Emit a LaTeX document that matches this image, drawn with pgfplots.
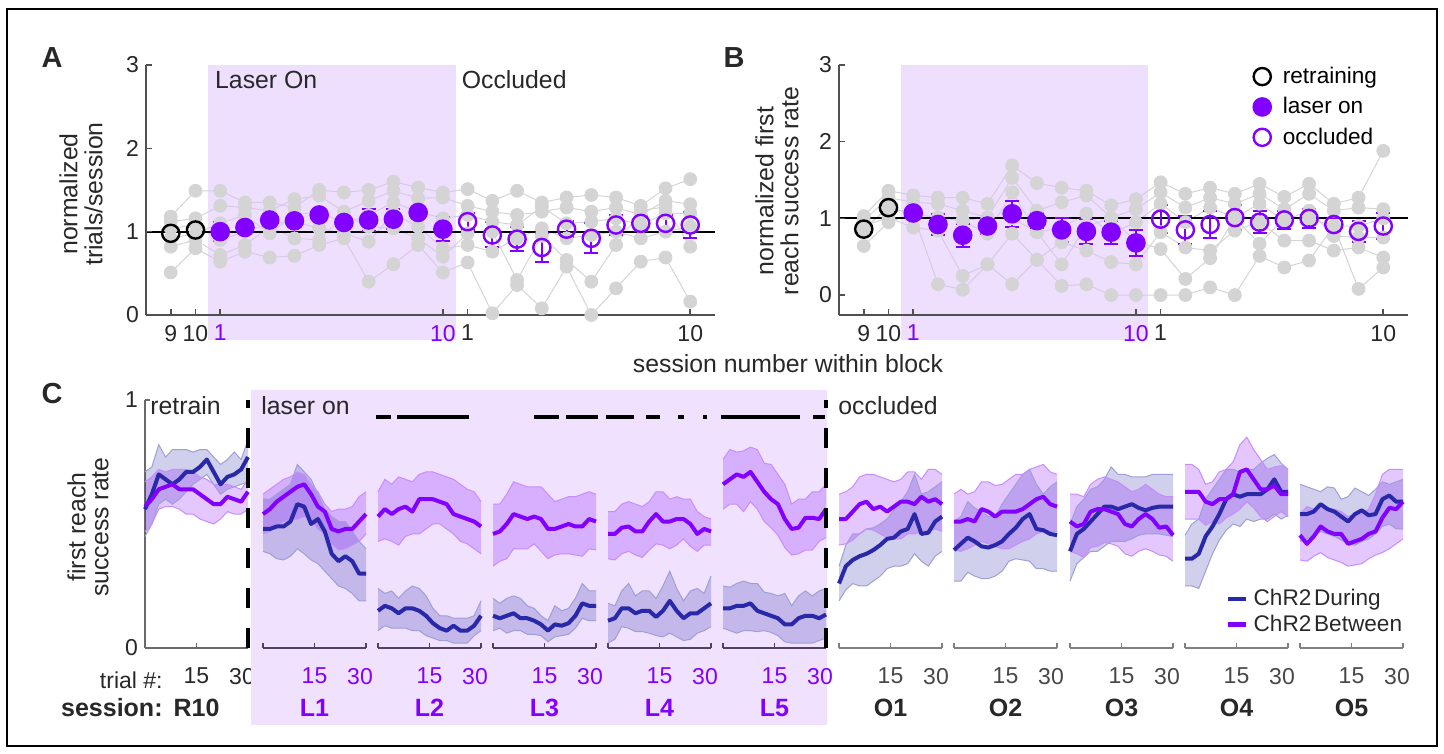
\documentclass[border=0pt]{standalone}
\usepackage{fontspec}
\setmainfont{Liberation Sans}
\usepackage{pgfplots}
\usepackage{pgfplotstable}
\pgfplotsset{compat=1.18}

\definecolor{vio}{RGB}{130,0,255}
\definecolor{dblue}{RGB}{40,40,168}
\definecolor{shA}{RGB}{221,191,255}
\definecolor{shC}{RGB}{240,225,255}
\definecolor{gdot}{RGB}{212,212,212}
\definecolor{txt}{RGB}{40,40,40}
\definecolor{axg}{RGB}{80,80,80}
\definecolor{laxc}{RGB}{80,64,100}

\newcommand\fs{\fontsize{12.4}{14}\selectfont}
\newcommand\ft{\fontsize{11.5}{13}\selectfont}
\newcommand\fl{\fontsize{11.3}{13}\selectfont}
\newcommand\fb{\fontsize{12.5}{14}\selectfont\bfseries}

% ---------- panel A data ----------
\pgfplotstableread{
x g1 g2 g3 g4 g5 g6
0 1.12 1.18 1.04 0.92 0.51 0.82
1 1.16 1.49 1.08 0.98 0.80 0.90
2 1.31 1.49 0.90 1.10 0.64 0.72
3 1.29 1.35 1.00 1.20 0.76 0.84
4 1.25 1.35 1.10 0.98 0.69 1.06
5 1.39 1.29 1.12 1.20 0.71 0.92
6 1.43 1.50 1.04 1.24 0.84 0.90
7 1.24 1.47 0.98 1.10 0.92 1.20
8 1.37 1.50 0.88 1.20 0.40 1.06
9 1.49 1.60 1.22 1.35 0.61 1.04
10 1.40 1.53 1.06 1.24 0.84 0.92
11 1.41 1.47 0.80 1.16 0.51 0.70
12 1.31 1.51 0.84 1.20 0.63 0.98
13 1.24 1.37 0.76 1.12 0.02 1.00
14 1.20 1.49 0.92 1.08 0.36 0.42
15 1.24 1.35 1.04 1.30 0.08 0.95
16 1.29 1.41 0.92 1.10 0.58 0.66
17 1.24 1.44 0.96 1.12 0.00 0.40
18 1.29 1.41 1.00 1.16 0.32 0.84
19 1.20 1.31 0.92 1.08 0.64 1.25
20 1.37 1.52 1.00 1.22 0.69 1.30
21 1.33 1.63 1.06 1.22 0.16 0.82
}\tAg
\pgfplotstableread{
x y e
0 0.98 0.05
1 1.02 0.04
}\tAr
\pgfplotstableread{
x y e
2 1.00 0.11
3 1.05 0.06
4 1.14 0.05
5 1.13 0.05
6 1.20 0.06
7 1.11 0.05
8 1.14 0.13
9 1.15 0.12
10 1.23 0.06
11 1.03 0.14
}\tAl
\pgfplotstableread{
x y e
12 1.12 0.10
13 0.96 0.15
14 0.91 0.14
15 0.81 0.17
16 1.03 0.10
17 0.92 0.18
18 1.08 0.12
19 1.10 0.09
20 1.10 0.10
21 1.08 0.16
}\tAo

% ---------- panel B data ----------
\pgfplotstableread{
x g1 g2 g3 g4 g5 g6
0 1.03 0.97 0.86 0.90 0.64 0.86
1 1.36 1.27 1.14 1.01 0.95 1.14
2 1.30 1.21 1.06 0.88 1.06 1.06
3 1.27 1.19 1.01 0.84 0.14 1.01
4 1.27 1.10 0.97 0.25 0.07 0.97
5 1.19 1.01 0.80 0.40 0.40 1.01
6 1.69 1.53 1.34 0.80 0.14 1.00
7 1.46 1.10 0.82 0.46 0.46 0.82
8 1.40 1.21 0.88 0.69 0.12 0.40
9 1.36 1.30 1.06 0.58 0.14 0.90
10 1.17 1.01 0.80 0.43 0.00 1.00
11 1.25 1.12 0.95 0.40 0.00 0.70
12 1.47 1.34 1.19 0.82 0.00 0.60
13 1.32 1.14 0.95 0.62 0.00 0.21
14 1.40 1.27 1.14 0.58 0.10 0.48
15 1.32 1.19 1.01 0.84 0.00 1.00
16 1.45 1.32 1.19 0.95 0.51 0.67
17 1.28 1.12 0.97 0.71 0.36 1.00
18 1.45 1.32 1.10 0.71 0.45 1.00
19 1.19 1.10 0.77 0.58 0.90 0.90
20 1.27 1.14 0.75 0.62 0.08 0.90
21 1.88 1.12 0.75 0.49 0.36 1.00
}\tBg
\pgfplotstableread{
x y e
0 0.86 0.04
1 1.14 0.04
}\tBr
\pgfplotstableread{
x y e
2 1.07 0.03
3 0.92 0.14
4 0.78 0.15
5 0.90 0.10
6 1.06 0.17
7 0.97 0.10
8 0.85 0.16
9 0.83 0.16
10 0.82 0.15
11 0.68 0.17
}\tBl
\pgfplotstableread{
x y e
12 0.99 0.18
13 0.85 0.18
14 0.92 0.17
15 1.01 0.16
16 0.95 0.14
17 0.98 0.12
18 1.00 0.12
19 0.92 0.08
20 0.83 0.14
21 0.90 0.17
}\tBo

% ---------- panel C data: t, blue mean/upper/lower, purple mean/upper/lower ----------
\pgfplotstableread{
t bm bu bl pm pu pl
0 0.56 0.71 0.45 0.57 0.67 0.47
2 0.62 0.73 0.50 0.60 0.69 0.50
4 0.70 0.82 0.58 0.64 0.72 0.56
6 0.68 0.77 0.60 0.65 0.71 0.57
8 0.66 0.80 0.58 0.66 0.72 0.57
10 0.68 0.80 0.60 0.64 0.72 0.56
12 0.71 0.80 0.63 0.64 0.72 0.54
14 0.71 0.79 0.66 0.64 0.71 0.54
16 0.73 0.80 0.68 0.62 0.69 0.52
18 0.76 0.80 0.70 0.60 0.68 0.51
20 0.71 0.77 0.66 0.58 0.66 0.50
22 0.66 0.74 0.62 0.58 0.66 0.52
24 0.69 0.76 0.64 0.61 0.66 0.55
26 0.70 0.79 0.65 0.60 0.65 0.54
28 0.72 0.76 0.66 0.59 0.64 0.54
30 0.77 0.84 0.67 0.63 0.68 0.56
}\tR
\pgfplotstableread{
t bm bu bl pm pu pl
0 0.48 0.60 0.39 0.54 0.62 0.46
2 0.48 0.60 0.38 0.56 0.64 0.47
4 0.49 0.62 0.36 0.59 0.66 0.49
6 0.49 0.64 0.355 0.61 0.68 0.51
8 0.51 0.66 0.37 0.63 0.69 0.52
10 0.58 0.74 0.40 0.65 0.71 0.52
12 0.57 0.71 0.38 0.66 0.70 0.53
14 0.50 0.68 0.355 0.62 0.66 0.52
16 0.52 0.62 0.34 0.57 0.63 0.48
18 0.47 0.56 0.31 0.55 0.58 0.46
20 0.38 0.53 0.28 0.48 0.55 0.42
22 0.35 0.51 0.25 0.47 0.56 0.395
24 0.37 0.51 0.24 0.48 0.56 0.40
26 0.35 0.47 0.22 0.48 0.57 0.415
28 0.30 0.43 0.19 0.51 0.61 0.43
30 0.30 0.40 0.19 0.54 0.63 0.46
}\tLa
\pgfplotstableread{
t bm bu bl pm pu pl
0 0.15 0.24 0.07 0.53 0.63 0.43
2 0.17 0.22 0.09 0.56 0.68 0.44
4 0.16 0.23 0.08 0.54 0.66 0.43
6 0.14 0.20 0.08 0.56 0.69 0.415
8 0.16 0.23 0.08 0.57 0.68 0.45
10 0.16 0.25 0.07 0.55 0.67 0.46
12 0.15 0.24 0.07 0.60 0.70 0.46
14 0.13 0.21 0.05 0.60 0.71 0.48
16 0.10 0.16 0.04 0.60 0.71 0.50
18 0.08 0.13 0.03 0.59 0.70 0.50
20 0.07 0.13 0.03 0.58 0.69 0.48
22 0.09 0.12 0.02 0.54 0.68 0.46
24 0.07 0.12 0.02 0.53 0.66 0.43
26 0.07 0.12 0.02 0.52 0.64 0.42
28 0.09 0.13 0.05 0.51 0.63 0.40
30 0.13 0.19 0.07 0.49 0.59 0.38
}\tLb
\pgfplotstableread{
t bm bu bl pm pu pl
0 0.13 0.20 0.07 0.46 0.58 0.33
2 0.12 0.18 0.08 0.47 0.58 0.35
4 0.13 0.20 0.06 0.50 0.62 0.36
6 0.14 0.21 0.07 0.54 0.67 0.40
8 0.12 0.20 0.07 0.53 0.66 0.40
10 0.12 0.17 0.055 0.52 0.65 0.40
12 0.11 0.16 0.055 0.53 0.65 0.42
14 0.095 0.13 0.05 0.52 0.65 0.39
16 0.07 0.11 0.025 0.48 0.62 0.36
18 0.095 0.17 0.045 0.48 0.59 0.375
20 0.09 0.15 0.05 0.49 0.60 0.38
22 0.10 0.16 0.055 0.50 0.61 0.38
24 0.13 0.20 0.08 0.49 0.61 0.375
26 0.18 0.26 0.12 0.49 0.62 0.37
28 0.17 0.23 0.11 0.52 0.63 0.40
30 0.17 0.23 0.11 0.51 0.62 0.395
}\tLc
\pgfplotstableread{
t bm bu bl pm pu pl
0 0.11 0.18 0.02 0.46 0.55 0.36
2 0.12 0.17 0.035 0.46 0.55 0.355
4 0.16 0.23 0.086 0.485 0.58 0.38
6 0.16 0.26 0.08 0.49 0.59 0.39
8 0.14 0.21 0.066 0.47 0.58 0.375
10 0.15 0.23 0.066 0.47 0.57 0.365
12 0.15 0.23 0.06 0.51 0.59 0.395
14 0.125 0.20 0.05 0.54 0.63 0.42
16 0.15 0.25 0.045 0.51 0.63 0.415
18 0.19 0.31 0.06 0.51 0.60 0.40
20 0.15 0.24 0.045 0.52 0.61 0.415
22 0.12 0.19 0.03 0.52 0.60 0.44
24 0.14 0.23 0.035 0.50 0.60 0.41
26 0.14 0.24 0.06 0.46 0.55 0.39
28 0.16 0.22 0.07 0.48 0.53 0.415
30 0.18 0.29 0.086 0.47 0.52 0.415
}\tLd
\pgfplotstableread{
t bm bu bl pm pu pl
0 0.16 0.25 0.08 0.66 0.76 0.56
2 0.16 0.245 0.07 0.68 0.80 0.58
4 0.17 0.26 0.06 0.70 0.79 0.58
6 0.17 0.27 0.07 0.69 0.795 0.55
8 0.18 0.26 0.07 0.71 0.81 0.59
10 0.15 0.26 0.066 0.67 0.80 0.56
12 0.14 0.225 0.07 0.63 0.745 0.51
14 0.13 0.22 0.063 0.60 0.74 0.485
16 0.12 0.21 0.05 0.58 0.70 0.455
18 0.095 0.22 0.025 0.52 0.66 0.405
20 0.095 0.17 0.02 0.48 0.58 0.375
22 0.12 0.21 0.02 0.485 0.60 0.38
24 0.13 0.23 0.02 0.525 0.60 0.395
26 0.13 0.21 0.02 0.525 0.63 0.395
28 0.12 0.23 0.03 0.52 0.63 0.43
30 0.135 0.24 0.04 0.56 0.66 0.445
}\tLe
\pgfplotstableread{
t bm bu bl pm pu pl
0 0.26 0.33 0.19 0.52 0.62 0.415
2 0.33 0.415 0.235 0.52 0.63 0.42
4 0.355 0.46 0.26 0.55 0.65 0.435
6 0.37 0.46 0.25 0.58 0.69 0.46
8 0.38 0.48 0.25 0.59 0.70 0.48
10 0.395 0.485 0.27 0.56 0.70 0.475
12 0.415 0.50 0.29 0.57 0.69 0.46
14 0.44 0.52 0.32 0.55 0.68 0.445
16 0.445 0.556 0.33 0.57 0.67 0.44
18 0.47 0.59 0.33 0.59 0.68 0.44
20 0.48 0.63 0.34 0.59 0.71 0.46
22 0.54 0.70 0.38 0.58 0.71 0.46
24 0.46 0.62 0.35 0.61 0.68 0.47
26 0.465 0.63 0.33 0.59 0.72 0.47
28 0.51 0.65 0.37 0.60 0.72 0.48
30 0.53 0.67 0.39 0.58 0.70 0.47
}\tOa
\pgfplotstableread{
t bm bu bl pm pu pl
0 0.395 0.51 0.27 0.51 0.62 0.395
2 0.42 0.53 0.27 0.51 0.64 0.39
4 0.445 0.59 0.305 0.52 0.62 0.40
6 0.43 0.565 0.29 0.51 0.63 0.415
8 0.41 0.55 0.28 0.56 0.67 0.43
10 0.405 0.53 0.28 0.55 0.67 0.42
12 0.415 0.53 0.29 0.53 0.655 0.41
14 0.43 0.58 0.31 0.55 0.66 0.40
16 0.46 0.62 0.35 0.55 0.68 0.40
18 0.485 0.66 0.36 0.55 0.70 0.415
20 0.52 0.70 0.355 0.56 0.70 0.43
22 0.54 0.72 0.35 0.58 0.72 0.44
24 0.48 0.66 0.32 0.60 0.73 0.46
26 0.475 0.62 0.32 0.61 0.74 0.47
28 0.46 0.65 0.31 0.58 0.71 0.47
30 0.455 0.67 0.31 0.57 0.70 0.47
}\tOb
\pgfplotstableread{
t bm bu bl pm pu pl
0 0.39 0.50 0.27 0.51 0.62 0.39
2 0.46 0.57 0.34 0.49 0.62 0.38
4 0.48 0.60 0.365 0.50 0.61 0.365
6 0.51 0.64 0.39 0.55 0.66 0.405
8 0.54 0.65 0.39 0.56 0.68 0.41
10 0.57 0.68 0.41 0.56 0.69 0.425
12 0.57 0.73 0.43 0.55 0.68 0.42
14 0.56 0.70 0.43 0.54 0.67 0.41
16 0.57 0.70 0.43 0.50 0.65 0.38
18 0.58 0.69 0.44 0.49 0.63 0.37
20 0.565 0.69 0.455 0.52 0.64 0.39
22 0.555 0.69 0.46 0.54 0.66 0.40
24 0.565 0.70 0.46 0.52 0.64 0.39
26 0.57 0.70 0.46 0.485 0.62 0.375
28 0.57 0.70 0.455 0.49 0.61 0.37
30 0.57 0.70 0.45 0.455 0.61 0.35
}\tOc
\pgfplotstableread{
t bm bu bl pm pu pl
0 0.36 0.455 0.25 0.63 0.74 0.52
2 0.36 0.50 0.25 0.63 0.74 0.52
4 0.38 0.52 0.24 0.63 0.72 0.52
6 0.45 0.60 0.31 0.59 0.66 0.495
8 0.49 0.64 0.38 0.58 0.67 0.51
10 0.54 0.68 0.435 0.60 0.71 0.50
12 0.60 0.72 0.475 0.60 0.72 0.525
14 0.62 0.72 0.50 0.62 0.75 0.54
16 0.61 0.71 0.49 0.71 0.82 0.56
18 0.62 0.72 0.52 0.72 0.85 0.59
20 0.62 0.72 0.51 0.68 0.80 0.565
22 0.62 0.745 0.52 0.64 0.76 0.53
24 0.64 0.765 0.52 0.64 0.72 0.51
26 0.68 0.78 0.54 0.655 0.73 0.53
28 0.63 0.745 0.52 0.62 0.735 0.55
30 0.63 0.72 0.535 0.62 0.72 0.53
}\tOd
\pgfplotstableread{
t bm bu bl pm pu pl
0 0.54 0.66 0.43 0.455 0.54 0.355
2 0.54 0.65 0.44 0.42 0.57 0.35
4 0.55 0.64 0.455 0.45 0.56 0.37
6 0.58 0.63 0.47 0.49 0.58 0.385
8 0.56 0.65 0.46 0.47 0.56 0.365
10 0.55 0.645 0.45 0.46 0.56 0.355
12 0.53 0.60 0.435 0.46 0.55 0.345
14 0.51 0.61 0.42 0.42 0.53 0.33
16 0.54 0.645 0.415 0.43 0.54 0.335
18 0.555 0.63 0.43 0.44 0.54 0.34
20 0.535 0.615 0.44 0.46 0.56 0.36
22 0.54 0.64 0.46 0.47 0.62 0.375
24 0.60 0.67 0.49 0.525 0.70 0.385
26 0.615 0.66 0.50 0.565 0.72 0.40
28 0.59 0.67 0.48 0.56 0.72 0.42
30 0.59 0.68 0.48 0.59 0.72 0.44
}\tOe

\pgfplotsset{
  tabAB/.style={anchor=south west, scale only axis, width=284.5pt, height=125pt,
    xmin=-1, xmax=22, axis x line*=bottom, axis y line*=left, axis on top, clip=false,
    xtick={0,1,2,11,12,21},
    xticklabels={9,10,\textcolor{vio}{1},\textcolor{vio}{10},1,10},
    ytick={0,1,2,3}, tick align=inside, major tick length=3pt,
    axis line style={axg, line width=0.8pt}, tick style={axg, line width=0.8pt},
    ticklabel style={font=\ft, text=txt}, xticklabel style={yshift=-1.5pt},
    /pgf/number format/assume math mode=true},
  gray pts/.style={gdot, line width=0.5pt, mark=*, mark size=3.2pt, forget plot},
  mean pts/.style={only marks, mark size=4.3pt, mark options={line width=1.2pt},
    error bars/y dir=both, error bars/y explicit,
    error bars/error bar style={line width=1pt},
    error bars/error mark options={rotate=90, line width=1pt, mark size=3.5pt}},
  cbase/.style={anchor=south west, scale only axis, width=51.5pt, height=124pt,
    xmin=0, xmax=30, ymin=0, ymax=1, axis x line*=bottom, clip=false,
    xtick={0,15,30}, xticklabels={,15,{\kern-6pt 30}},
    tick align=inside, major tick length=2.5pt,
    xticklabel style={font=\ft, yshift=-6.5pt},
    /pgf/number format/assume math mode=true},
  caxL/.style={cbase, hide y axis, axis line style={laxc, line width=0.8pt},
    tick style={laxc, line width=0.8pt}, xticklabel style={text=vio}},
  caxO/.style={cbase, hide y axis, axis line style={gray, line width=0.8pt},
    tick style={gray, line width=0.8pt}, xticklabel style={text=txt!85}},
}

% bands: stacked plots, lower edge then width, closed against the previous one
\newcommand\Cplot[1]{%
  \addplot[draw=none, stack plots=y, forget plot] table[x=t,y=bl]{#1};
  \addplot[draw=none, fill=dblue, fill opacity=0.22, stack plots=y, forget plot]
    table[x=t,y expr=\thisrow{bu}-\thisrow{bl}]{#1} \closedcycle;
  \addplot[draw=none, stack plots=y, forget plot] table[x=t,y expr=\thisrow{pl}-\thisrow{bu}]{#1};
  \addplot[draw=none, fill=vio, fill opacity=0.22, stack plots=y, forget plot]
    table[x=t,y expr=\thisrow{pu}-\thisrow{pl}]{#1} \closedcycle;
  \addplot[dblue!45, line width=0.5pt, forget plot] table[x=t,y=bu]{#1};
  \addplot[dblue!45, line width=0.5pt, forget plot] table[x=t,y=bl]{#1};
  \addplot[vio!45, line width=0.5pt, forget plot] table[x=t,y=pu]{#1};
  \addplot[vio!45, line width=0.5pt, forget plot] table[x=t,y=pl]{#1};
  \addplot[dblue, line width=2pt, line join=round] table[x=t,y=bm]{#1};
  \addplot[vio, line width=2pt, line join=round] table[x=t,y=pm]{#1};
}
\newcommand\sig[1]{\addplot[black, line width=2pt, forget plot, unbounded coords=jump] coordinates {#1};}

\begin{document}
\begin{tikzpicture}
\path[use as bounding box] (0,0) rectangle (722pt,377pt);
\draw[line width=0.6pt] (3.5pt,4pt) rectangle (718.5pt,372.5pt);

% ---------------- A ----------------
\begin{axis}[tabAB, at={(73pt,219.5pt)}, ymin=0, ymax=3]
\pgfplotsinvokeforeach{1,...,6}{\addplot[gray pts] table[x=x,y=g#1]{\tAg};}
\addplot[draw=none, fill=shA, fill opacity=0.5, forget plot]
  coordinates {(1.5,-0.3) (11.55,-0.3) (11.55,3) (1.5,3)};
\addplot[black, line width=0.9pt, forget plot] coordinates {(-1,1) (22,1)};
\addplot[black, mark=o, mean pts] table[x=x,y=y,y error=e]{\tAr};
\addplot[vio, mark=*, mean pts] table[x=x,y=y,y error=e]{\tAl};
\addplot[vio, mark=o, mean pts] table[x=x,y=y,y error=e]{\tAo};
\end{axis}

% ---------------- B ----------------
\begin{axis}[tabAB, at={(419.5pt,219.5pt)}, ymin=-0.26, ymax=3,
  legend style={at={(0.728,1.01)}, anchor=north west, draw=none, fill=none,
    font=\fl, row sep=1.5pt, column sep=4pt, inner sep=0pt, nodes={inner sep=2pt, text=black}},
  legend cell align=left,
  legend image code/.code={\draw[#1] plot coordinates {(4pt,0pt)};}]
\pgfplotsinvokeforeach{1,...,6}{\addplot[gray pts] table[x=x,y=g#1]{\tBg};}
\addplot[draw=none, fill=shA, fill opacity=0.5, forget plot]
  coordinates {(1.5,-0.58) (11.47,-0.58) (11.47,3) (1.5,3)};
\addplot[black, line width=0.9pt, forget plot] coordinates {(-1,1) (22,1)};
\addplot[black, mark=o, mean pts] table[x=x,y=y,y error=e]{\tBr};
\addplot[vio, mark=*, mean pts] table[x=x,y=y,y error=e]{\tBl};
\addplot[vio, mark=o, mean pts] table[x=x,y=y,y error=e]{\tBo};
\legend{retraining, laser on, occluded}
\end{axis}

% ---------------- C ----------------
\begin{axis}[cbase, at={(72.5pt,53pt)}, axis y line*=left, ytick={0,1},
  yticklabel style={font=\ft, text=txt},
  axis line style={axg!85, line width=0.8pt}, tick style={axg!85, line width=0.8pt},
  xticklabel style={text=txt}]
\addplot[fill=shC, draw=none, forget plot]
  coordinates {(30.9,-0.31) (198.6,-0.31) (198.6,1.04) (30.9,1.04)};
\Cplot{\tR}
\addplot[black, line width=2pt, dash pattern=on 10pt off 10pt, forget plot] coordinates {(30,0) (30,1)};
\end{axis}

\begin{axis}[caxL, at={(131.5pt,53pt)}]
\Cplot{\tLa}
\end{axis}
\begin{axis}[caxL, at={(189pt,53pt)}]
\Cplot{\tLb}
\sig{(-0.5,0.93) (3.8,0.93) (4.6,nan) (5.5,0.93) (26.5,0.93)}
\end{axis}
\begin{axis}[caxL, at={(246.5pt,53pt)}]
\Cplot{\tLc}
\sig{(11.9,0.93) (19.2,0.93) (20,nan) (21.2,0.93) (30.5,0.93)}
\end{axis}
\begin{axis}[caxL, at={(304pt,53pt)}]
\Cplot{\tLd}
\sig{(-0.7,0.93) (7.5,0.93) (9,nan) (11,0.93) (15,0.93) (17,nan) (20.4,0.93) (22.1,0.93) (25,nan) (27.6,0.93) (28.8,0.93)}
\end{axis}
\begin{axis}[caxL, at={(361.5pt,53pt)}]
\Cplot{\tLe}
\sig{(-0.7,0.93) (22.4,0.93) (24,nan) (26.2,0.93) (29.7,0.93)}
\addplot[black, line width=2pt, dash pattern=on 10pt off 10pt, forget plot] coordinates {(30,0) (30,1)};
\end{axis}

\begin{axis}[caxO, at={(419.5pt,53pt)}]
\Cplot{\tOa}
\end{axis}
\begin{axis}[caxO, at={(477pt,53pt)}]
\Cplot{\tOb}
\end{axis}
\begin{axis}[caxO, at={(535pt,53pt)}]
\Cplot{\tOc}
\end{axis}
\begin{axis}[caxO, at={(592.5pt,53pt)}]
\Cplot{\tOd}
\end{axis}
\begin{axis}[caxO, at={(650pt,53pt)},
  legend style={at={(-0.72,0.25)}, anchor=north west, draw=none, fill=none,
    font=\fl, row sep=0pt, column sep=1pt, inner sep=0pt, nodes={inner sep=1.5pt, text=txt}},
  legend cell align=left,
  legend image code/.code={\draw[#1, line width=2.2pt] (0pt,0pt) -- (9pt,0pt);}]
\Cplot{\tOe}
\legend{ChR2\hspace{0.12em}During, ChR2\hspace{0.12em}Between}
\end{axis}

% ---------------- text ----------------
\begin{scope}[every node/.style={text=txt, inner sep=0pt}]
\node[font=\fontsize{14.5}{16}\selectfont\bfseries] at (26pt,348pt) {A};
\node[font=\fontsize{14.5}{16}\selectfont\bfseries] at (367pt,348pt) {B};
\node[font=\fontsize{14.5}{16}\selectfont\bfseries] at (26pt,180pt) {C};
\node[font=\fs, anchor=west] at (107.4pt,337pt) {Laser On};
\node[font=\fs, anchor=west] at (230.7pt,337pt) {Occluded};
\node[font=\fontsize{12.4}{12.5}\selectfont, rotate=90, align=center] at (40.5pt,280pt) {normalized\\trials/session};
\node[font=\fontsize{12.4}{12.5}\selectfont, rotate=90, align=center] at (388.5pt,281.5pt) {normalized first\\reach success rate};
\node[font=\fs] at (394pt,195pt) {session number within block};
\node[font=\fontsize{12.4}{11.5}\selectfont, rotate=90, align=center] at (44pt,113.5pt) {first reach\\success rate};
\node[font=\fs, anchor=west] at (75pt,174pt) {retrain};
\node[font=\fs, anchor=west] at (130.5pt,174pt) {laser on};
\node[font=\fs, anchor=west] at (419pt,174pt) {occluded};
\node[font=\ft, anchor=east] at (81.5pt,37pt) {trial \#:};
\node[font=\fb, anchor=east] at (81.5pt,23pt) {session:};
\node[font=\fb] at (98.25pt,23pt) {R10};
\node[font=\fb, text=vio] at (157.25pt,23pt) {L1};
\node[font=\fb, text=vio] at (214.75pt,23pt) {L2};
\node[font=\fb, text=vio] at (272.25pt,23pt) {L3};
\node[font=\fb, text=vio] at (329.75pt,23pt) {L4};
\node[font=\fb, text=vio] at (387.25pt,23pt) {L5};
\node[font=\fb] at (445.25pt,23pt) {O1};
\node[font=\fb] at (502.75pt,23pt) {O2};
\node[font=\fb] at (560.75pt,23pt) {O3};
\node[font=\fb] at (618.25pt,23pt) {O4};
\node[font=\fb] at (675.75pt,23pt) {O5};
\end{scope}
\end{tikzpicture}
\end{document}
